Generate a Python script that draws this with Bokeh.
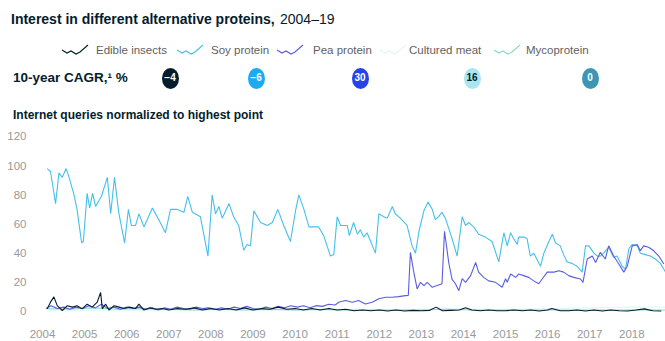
from bokeh.plotting import figure
from bokeh.models import Range1d, FixedTicker, Div
from bokeh.layouts import column
from bokeh.embed import file_html
from bokeh.resources import INLINE

FONT = "Liberation Sans"

# ---------------- data ----------------
series_names = ["Edible insects", "Soy protein", "Pea protein", "Cultured meat", "Mycoprotein"]
line_colors = ["#051C2C", "#45C0EA", "#5A5CE0", "#E4F6F9", "#8FD9C8"]
badge_colors = ["#051C2C", "#1FA9EE", "#2743E8", "#AAE6F0", "#3C96B4"]
badge_text_colors = ["white", "white", "white", "#051C2C", "white"]
cagr_labels = ["\u22124", "\u22126", "30", "16", "0"]

title_main = "Interest in different alternative proteins,"
title_years = "2004\u201319"
cagr_title = "10-year CAGR,\u00b9 %"
y_title = "Internet queries normalized to highest point"

year_ticks = list(range(2004, 2019))
year_labels = [str(y) for y in year_ticks]
y_ticks = [0, 20, 40, 60, 80, 100, 120]

soy_t = [2004.11, 2004.19, 2004.31, 2004.39, 2004.47, 2004.56, 2004.62, 2004.74, 2004.82, 2004.93,
         2004.97, 2005.06, 2005.12, 2005.19, 2005.26, 2005.40, 2005.54, 2005.62, 2005.71, 2005.81,
         2005.95, 2006.04, 2006.11, 2006.21, 2006.29, 2006.41, 2006.61, 2006.76, 2006.92, 2007.04,
         2007.20, 2007.36, 2007.45, 2007.56, 2007.75, 2007.93, 2008.03, 2008.11, 2008.19, 2008.27,
         2008.43, 2008.54, 2008.66, 2008.78, 2008.86, 2008.94, 2009.02, 2009.18, 2009.34, 2009.46,
         2009.59, 2009.73, 2009.89, 2010.01, 2010.09, 2010.21, 2010.33, 2010.44, 2010.56, 2010.68,
         2010.84, 2010.92, 2011.00, 2011.08, 2011.24, 2011.29, 2011.39, 2011.48, 2011.55, 2011.63,
         2011.71, 2011.91, 2011.99, 2012.11, 2012.19, 2012.31, 2012.38, 2012.50, 2012.66, 2012.78,
         2012.86, 2012.95, 2013.06, 2013.16, 2013.26, 2013.33, 2013.41, 2013.49, 2013.57, 2013.73,
         2013.85, 2013.97, 2014.05, 2014.13, 2014.24, 2014.36, 2014.52, 2014.68, 2014.84, 2014.96,
         2015.04, 2015.12, 2015.19, 2015.28, 2015.31, 2015.43, 2015.51, 2015.59, 2015.67, 2015.83,
         2015.91, 2016.03, 2016.11, 2016.19, 2016.30, 2016.38, 2016.46, 2016.58, 2016.70, 2016.82,
         2016.90, 2016.98, 2017.10, 2017.18, 2017.25, 2017.33, 2017.45, 2017.57, 2017.65, 2017.77,
         2017.85, 2017.93, 2018.01, 2018.13, 2018.20, 2018.32, 2018.44, 2018.56, 2018.68, 2018.80]
soy_v = [98, 96, 74, 95, 92, 98, 93, 81, 70, 47,
         48, 81, 71, 81, 72, 79, 92, 67, 92, 68,
         47, 70, 59, 59, 67, 58, 71, 63, 54, 70,
         70, 68, 79, 68, 65, 38, 80, 67, 72, 64,
         74, 65, 59, 42, 46, 45, 69, 61, 59, 61,
         70, 59, 48, 69, 80, 70, 58, 58, 58, 52,
         38, 39, 65, 59, 59, 52, 61, 53, 56, 51,
         54, 40, 67, 65, 64, 72, 67, 64, 59, 45,
         40, 56, 69, 75, 70, 63, 65, 68, 64, 50,
         38, 65, 59, 61, 58, 53, 51, 48, 34, 54,
         45, 54, 50, 46, 51, 51, 50, 38, 40, 31,
         40, 48, 53, 47, 45, 39, 34, 33, 31, 27,
         45, 45, 40, 38, 38, 40, 44, 37, 38, 31,
         29, 43, 46, 45, 40, 39, 38, 36, 33, 27]

pea_t = [2004.08, 2004.20, 2004.35, 2004.50, 2004.65, 2004.80, 2004.95, 2005.10, 2005.25, 2005.40,
         2005.55, 2005.70, 2005.85, 2006.00, 2006.15, 2006.30, 2006.45, 2006.60, 2006.75, 2006.90,
         2007.05, 2007.20, 2007.35, 2007.50, 2007.65, 2007.80, 2007.95, 2008.10, 2008.25, 2008.40,
         2008.55, 2008.70, 2008.85, 2009.00, 2009.15, 2009.30, 2009.45, 2009.60, 2009.75, 2009.90,
         2010.05, 2010.20, 2010.35, 2010.50, 2010.65, 2010.80, 2010.95, 2011.05, 2011.20, 2011.36,
         2011.51, 2011.67, 2011.83, 2011.99, 2012.15, 2012.31, 2012.46, 2012.62, 2012.69, 2012.74,
         2012.82, 2012.90, 2012.98, 2013.06, 2013.14, 2013.26, 2013.49, 2013.55, 2013.65, 2013.73,
         2013.81, 2013.89, 2013.97, 2014.05, 2014.17, 2014.29, 2014.36, 2014.48, 2014.60, 2014.76,
         2014.92, 2015.00, 2015.04, 2015.12, 2015.24, 2015.31, 2015.43, 2015.55, 2015.67, 2015.79,
         2015.87, 2015.99, 2016.15, 2016.27, 2016.38, 2016.50, 2016.62, 2016.78, 2016.84, 2016.94,
         2017.06, 2017.14, 2017.25, 2017.37, 2017.45, 2017.57, 2017.69, 2017.81, 2017.89, 2018.01,
         2018.13, 2018.20, 2018.28, 2018.40, 2018.52, 2018.64, 2018.76]
pea_v = [2, 4, 2, 3, 1.5, 3, 2, 4, 2.5, 5,
         2, 3, 1.5, 3, 2, 3, 1.5, 2.5, 1, 2.5,
         1.5, 3, 2, 1.5, 3, 2, 2.5, 1.5, 2.5, 1.5,
         3, 2, 3.5, 2, 1.5, 3, 2, 3.5, 2.5, 4,
         3, 4, 2.5, 4, 3.5, 5, 4.5, 6.5, 7.5, 6.4,
         7.5, 5.2, 6.4, 8.7, 9.8, 9.8, 10.2, 10.9, 11, 40.5,
         27, 15.5, 20, 17.7, 20, 16.6, 19, 55, 33.6, 22,
         19, 14.3, 22.5, 20, 24.6, 33.6, 27, 23.4, 21, 20,
         16.6, 22.5, 20, 25.7, 23.4, 25.7, 24.6, 23.4, 21, 19,
         22.3, 27, 27, 28, 27, 24.6, 23.4, 22.3, 20, 36,
         38, 33.6, 40.5, 36, 45, 38, 32.6, 27, 31, 45,
         46, 41.6, 45, 44, 41.6, 38, 32.6]

insects_t = [2004.11, 2004.19, 2004.27, 2004.35, 2004.47, 2004.59, 2004.71, 2004.82, 2004.94, 2005.06,
             2005.18, 2005.30, 2005.38, 2005.42, 2005.50, 2005.58, 2005.70, 2005.82, 2005.94, 2006.06,
             2006.21, 2006.29, 2006.41, 2006.55, 2006.70, 2006.85, 2007.00, 2007.20, 2007.40, 2007.60,
             2007.80, 2008.00, 2008.20, 2008.40, 2008.60, 2008.80, 2009.00, 2009.20, 2009.40, 2009.60,
             2009.80, 2010.00, 2010.20, 2010.40, 2010.60, 2010.80, 2011.00, 2011.20, 2011.40, 2011.60,
             2011.80, 2012.00, 2012.20, 2012.40, 2012.60, 2012.80, 2013.00, 2013.20, 2013.35, 2013.50,
             2013.70, 2013.90, 2014.05, 2014.20, 2014.40, 2014.60, 2014.80, 2015.00, 2015.20, 2015.40,
             2015.60, 2015.80, 2016.00, 2016.10, 2016.30, 2016.50, 2016.70, 2016.90, 2017.10, 2017.30,
             2017.50, 2017.70, 2017.90, 2018.10, 2018.30, 2018.50, 2018.70]
insects_v = [1.8, 6.4, 10, 4, 0.7, 4, 3, 4, 1.8, 5,
             3, 6.4, 13, 2, 5, 1, 4, 3, 2, 3,
             2, 5, 1, 2.5, 1.5, 2, 1, 2, 1.5, 2.5,
             1, 2, 1, 2, 1, 2.5, 1, 2, 1.5, 3,
             1.5, 2, 1, 2, 1, 2, 1, 1.5, 0.5, 1,
             0.5, 1, 0.3, 1, 0.3, 0.8, 0.5, 0.8, 3, 0.5,
             0.8, 1, 2.5, 1, 0.5, 1, 0.5, 0.5, 1, 0.5,
             1, 0.3, 1, 2, 0.5, 0.5, 1, 0.3, 1, 0.3,
             1, 0.5, 0.3, 1, 1.8, 0.5, 0.3]

cultured_t = [2004.1, 2005.0, 2006.0, 2007.0, 2008.0, 2009.0, 2010.0, 2011.0, 2012.0, 2013.0,
              2013.5, 2014.0, 2015.0, 2016.0, 2017.0, 2018.0, 2018.8]
cultured_v = [0.5, 0.5, 0.5, 0.5, 0.5, 0.5, 0.8, 0.8, 1, 1.5,
              2.5, 1.5, 1.5, 2, 2.5, 3, 3]

myco_t = [2004.1, 2004.6, 2005.2, 2005.8, 2006.4, 2007.0, 2007.6, 2008.2, 2008.8, 2009.4,
          2010.0, 2010.6, 2011.2, 2011.8, 2012.4, 2013.0, 2013.6, 2014.2, 2014.8, 2015.4,
          2016.0, 2016.6, 2017.2, 2017.8, 2018.4, 2018.8]
myco_v = [2, 1.5, 2.5, 1.5, 2, 1.5, 1, 1.5, 1, 1.5,
          1, 1.5, 1, 1, 1, 1, 1.5, 1, 1, 1,
          1, 1, 1, 1, 1, 1]

series_t = [insects_t, soy_t, pea_t, cultured_t, myco_t]
series_v = [insects_v, soy_v, pea_v, cultured_v, myco_v]

# ---------------- header (HTML) ----------------
W = 665
HEAD_H = 125
LEFT = 36


def span(x, yc, text, size, bold=False, color="#051C2C"):
    return (f'<span style="position:absolute;left:{x}px;top:{yc - size / 2}px;'
            f'font-size:{size}px;line-height:{size}px;white-space:nowrap;'
            f'font-weight:{"bold" if bold else "normal"};color:{color};">{text}</span>')


parts = []
parts.append(span(11, 19, title_main, 14, bold=True))
parts.append(span(280, 19, title_years, 14))

icon_x0 = [62, 177, 277, 380, 494]
text_x0 = [96, 211, 313, 409, 526]
icon_pts = "1,7 6,10 10,8 15,11 19,9 27,2"
LEG_Y = 51
for i, name in enumerate(series_names):
    parts.append(f'<svg style="position:absolute;left:{icon_x0[i] - 1}px;top:{LEG_Y - 8}px;" '
                 f'width="30" height="14"><polyline points="{icon_pts}" fill="none" '
                 f'stroke="{line_colors[i]}" stroke-width="1.1"/></svg>')
    parts.append(span(text_x0[i], LEG_Y, name, 11.5, color="#5f5f5f"))

ROW_Y = 78
parts.append(span(13, ROW_Y, cagr_title, 13.5, bold=True))
badge_x = [170, 256, 360, 472, 590]
BW, BH = 17, 21
for i in range(5):
    parts.append(f'<span style="position:absolute;left:{badge_x[i] - BW / 2}px;top:{ROW_Y - BH / 2}px;'
                 f'width:{BW}px;height:{BH}px;border-radius:50%;background:{badge_colors[i]};'
                 f'color:{badge_text_colors[i]};font-size:10px;font-weight:bold;'
                 f'display:flex;align-items:center;justify-content:center;">{cagr_labels[i]}</span>')

parts.append(span(13, 115, y_title, 12, bold=True))

html = (f'<div style="position:relative;width:{W}px;height:{HEAD_H}px;'
        f'font-family:\'{FONT}\';margin:0;padding:0;">' + "".join(parts) + "</div>")
head = Div(text=html, width=W, height=HEAD_H, margin=0)

# ---------------- chart ----------------
CH_H = 341 - HEAD_H
p = figure(width=W, height=CH_H, x_range=Range1d(2003.857, 2018.80),
           y_range=Range1d(-4.8, 124.1), output_backend="svg", toolbar_location=None,
           min_border_left=LEFT, min_border_right=0, min_border_top=5, min_border_bottom=23)
p.grid.visible = False
p.outline_line_color = None

order = [3, 4, 1, 2, 0]
for i in order:
    p.line(series_t[i], series_v[i], line_color=line_colors[i], line_width=1.1)

p.xaxis.ticker = FixedTicker(ticks=year_ticks)
p.xaxis.major_label_overrides = {t: l for t, l in zip(year_ticks, year_labels)}
p.yaxis.ticker = FixedTicker(ticks=y_ticks)
for ax in (p.xaxis[0], p.yaxis[0]):
    ax.axis_line_color = None
    ax.major_tick_line_color = None
    ax.minor_tick_line_color = None
    ax.major_label_text_color = "#999999"
    ax.major_label_text_font = FONT
    ax.major_label_text_font_size = "11.5px"
p.xaxis.major_label_standoff = 5
p.yaxis.major_label_standoff = 4

layout = column(head, p, spacing=0)
open("out.html", "w").write(file_html(layout, INLINE))
